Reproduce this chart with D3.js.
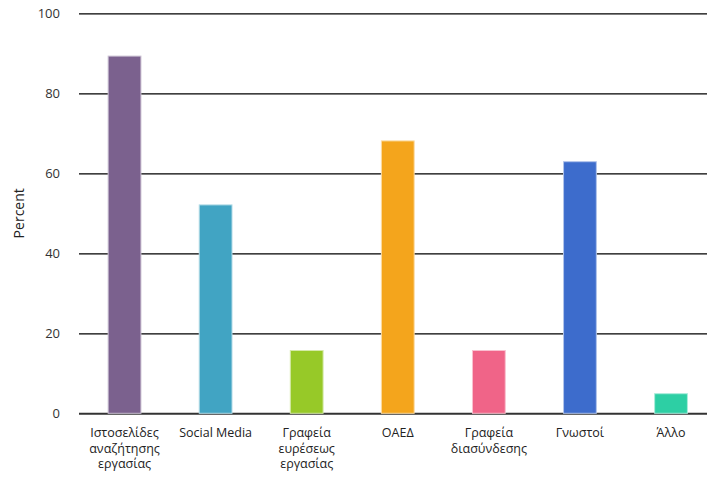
<!DOCTYPE html>
<html>
<head>
<meta charset="utf-8">
<script src="https://cdn.jsdelivr.net/npm/d3@7"></script>
<style>
  html, body { margin: 0; padding: 0; background: #fff; }
  svg { display: block; }
</style>
</head>
<body>
<svg id="chart" width="707" height="479"></svg>
<script>
const categories = ["Ιστοσελίδες αναζήτησης εργασίας", "Social Media", "Γραφεία ευρέσεως εργασίας", "ΟΑΕΔ", "Γραφεία διασύνδεσης", "Γνωστοί", "Άλλο"];
const values = [89.3, 52.1, 15.7, 68.1, 15.7, 62.9, 4.9];
const colors = ["#7B618E", "#41A4C3", "#97C928", "#F4A51C", "#F06488", "#3D6CCC", "#2DCFA4"];
const yTicks = [0, 20, 40, 60, 80, 100];
const yTitle = "Percent";

(function () {
const svg = d3.select("#chart");
const mLeft = 79, mTop = 13.3, mBottom = 413.3;
const step = 91.08;
const font = "'Open Sans', 'Noto Sans', sans-serif";

const x = d3.scaleBand().domain(categories)
  .range([mLeft, mLeft + step * categories.length])
  .paddingInner(0.64).paddingOuter(0.32);
const y = d3.scaleLinear().domain([0, 100]).range([mBottom, mTop]);

// gridlines
const yAxis = d3.axisLeft(y).tickValues(yTicks).tickSize(0).tickPadding(0);
const gy = svg.append("g").attr("transform", `translate(${mLeft},0)`).call(yAxis);
gy.select(".domain").remove();
gy.selectAll(".tick text")
  .attr("x", -19)
  .attr("dy", "0.34em")
  .style("font-family", font)
  .style("font-size", "13px")
  .attr("fill", "#333");
gy.selectAll(".tick").append("line")
  .attr("x1", 0).attr("x2", 707 - mLeft)
  .attr("stroke", d => d === 0 ? "#333" : "#000")
  .attr("stroke-width", d => d === 0 ? 2 : 1.3);

// bars
svg.append("g").selectAll("rect").data(categories).join("rect")
  .attr("x", d => x(d))
  .attr("width", x.bandwidth())
  .attr("y", (d, i) => y(values[i]))
  .attr("height", (d, i) => y(0) - y(values[i]))
  .attr("fill", (d, i) => colors[i])
  .attr("stroke", (d, i) => d3.interpolateRgb(colors[i], "#fff")(0.6))
  .attr("stroke-width", 1);

// category labels
const xAxis = d3.axisBottom(x).tickSize(0).tickPadding(0);
const gx = svg.append("g").attr("transform", `translate(0,${mBottom})`).call(xAxis);
gx.select(".domain").remove();
gx.selectAll(".tick text").each(function(d) {
  const t = d3.select(this);
  t.text(null).attr("dy", null).attr("y", null);
  const words = d.split(" ");
  const lines = [];
  let cur = "";
  const measure = svg.append("text").style("font-family", font).style("font-size", "12.5px");
  words.forEach(w => {
    const test = cur ? cur + " " + w : w;
    measure.text(test);
    if (cur && measure.node().getComputedTextLength() > 84) { lines.push(cur); cur = w; }
    else cur = test;
  });
  lines.push(cur);
  measure.remove();
  lines.forEach((ln, i) => {
    t.append("tspan").attr("x", 0).attr("y", 24 + i * 15.5).text(ln);
  });
})
  .style("font-family", font)
  .style("font-size", "12.5px")
  .attr("fill", "#222");

// y title
svg.append("text")
  .attr("transform", `translate(24,${(mTop + mBottom) / 2}) rotate(-90)`)
  .attr("text-anchor", "middle")
  .style("font-family", font)
  .style("font-size", "14px")
  .attr("fill", "#222")
  .text(yTitle);
})();
</script>
</body>
</html>
